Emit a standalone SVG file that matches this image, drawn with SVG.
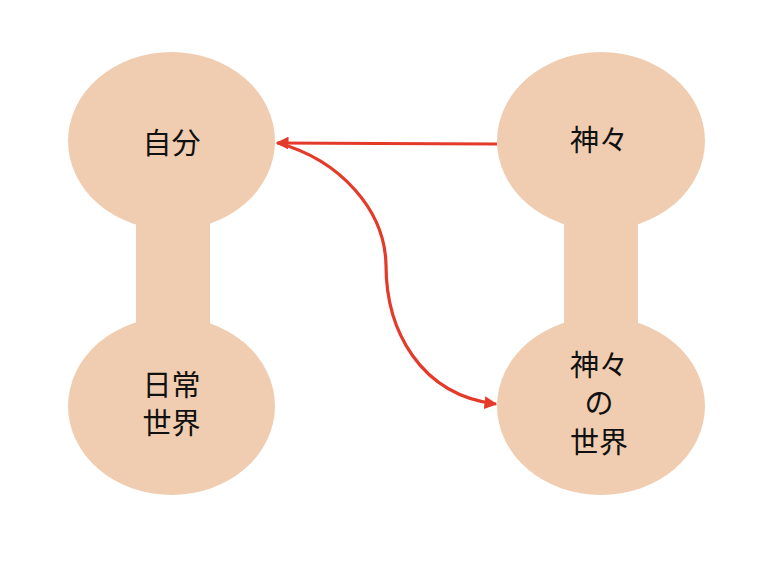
<svg xmlns="http://www.w3.org/2000/svg" width="780" height="562" viewBox="0 0 780 562">
<defs>
<style>
.blob{fill:#F0CDB0;stroke:none}
.lbl{font-family:"Noto Sans CJK JP","Noto Sans CJK SC",sans-serif;font-size:29px;fill:#111;text-anchor:middle}
.conn{fill:none;stroke:#E43A29;stroke-width:3.2}
</style>
<marker id="ah" viewBox="0 0 10 10" refX="9" refY="5" markerWidth="4" markerHeight="4" orient="auto" markerUnits="strokeWidth">
<path d="M0,0 L10,5 L0,10 z" fill="#E43A29"/>
</marker>
</defs>
<rect width="780" height="562" fill="#fff"/>
<g id="bar-left"><rect class="blob" x="136" y="200" width="74" height="140"/></g>
<g id="bar-right"><rect class="blob" x="564" y="200" width="74" height="140"/></g>
<g id="node-jibun">
<ellipse class="blob" cx="171.5" cy="141" rx="103.5" ry="89"/>
<text class="lbl" x="171.5" y="154">自分</text>
</g>
<g id="node-nichijo">
<ellipse class="blob" cx="171.5" cy="406" rx="103.5" ry="89"/>
<text class="lbl" x="171.5" y="396">日常</text>
<text class="lbl" x="171.5" y="434">世界</text>
</g>
<g id="node-kamigami">
<ellipse class="blob" cx="601" cy="141" rx="104" ry="89"/>
<text class="lbl" x="599" y="151">神々</text>
</g>
<g id="node-kamigami-sekai">
<ellipse class="blob" cx="601" cy="406" rx="104" ry="89"/>
<text class="lbl" x="599" y="376">神々</text>
<text class="lbl" x="599" y="414">の</text>
<text class="lbl" x="599" y="453">世界</text>
</g>
<g id="connectors">
<path class="conn" d="M497,144 L378,143.5 L277,143" marker-end="url(#ah)"/>
<path class="conn" d="M278,143 C340,160 385,210 386,265 C386,330 420,395 496,404" marker-end="url(#ah)"/>
</g>
</svg>
